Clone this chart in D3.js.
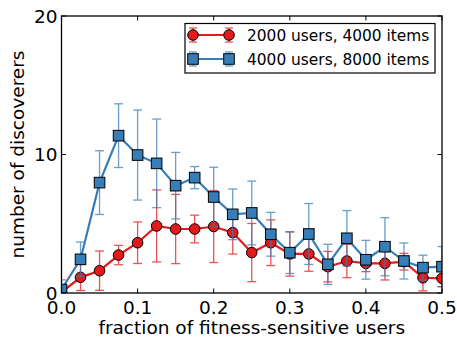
<!DOCTYPE html>
<meta charset="utf-8">
<head>
	<script type="text/javascript" src="https://cdn.jsdelivr.net/npm/d3@7"></script>
	<style>
		body { margin: 0; background: #fff; }
		text { font-family: "DejaVu Sans", sans-serif; }
	</style>
</head>
<body>
<div id="chart"></div>
<script>
	// data
	const fractions = [0, 0.025, 0.05, 0.075, 0.1, 0.125, 0.15, 0.175, 0.2, 0.225, 0.25,
		0.275, 0.3, 0.325, 0.35, 0.375, 0.4, 0.425, 0.45, 0.475, 0.5];
	const smallVals = [0.05, 1.13, 1.61, 2.74, 3.63, 4.84, 4.62, 4.62, 4.8, 4.36, 2.92,
		3.63, 2.82, 2.82, 1.9, 2.31, 2.14, 2.14, 2.26, 1.1, 1.06];
	const smallErr = [0.1, 0.95, 1.42, 0.7, 1.5, 2.6, 2.5, 1.0, 2.6, 1.55, 2.1,
		1.65, 1.6, 1.25, 1.1, 1.2, 0.6, 1.2, 0.6, 0.95, 0.6];
	const bigVals = [0.25, 2.43, 7.97, 11.36, 9.96, 9.36, 7.75, 8.33, 6.93, 5.68, 5.78,
		4.24, 2.91, 4.26, 2.07, 3.95, 2.4, 3.34, 2.31, 1.83, 1.9];
	const bigErr = [0.7, 1.25, 2.3, 2.3, 3.25, 3.2, 2.4, 0.8, 2.15, 1.83, 2.3,
		1.58, 1.5, 2.2, 1.45, 2.0, 1.4, 2.1, 1.3, 0.9, 1.45];
	const seriesNames = ["2000 users, 4000 items", "4000 users, 8000 items"];
	const xTicks = [0, 0.1, 0.2, 0.3, 0.4, 0.5];
	const yTicks = [0, 10, 20];

	const width = 457, height = 337;
	const margin = {left: 61.5, right: 15, top: 16, bottom: 44};
	const fontSize = "18.5px";

	const svg = d3.select("#chart").append("svg")
		.attr("width", width).attr("height", height);

	const x = d3.scaleLinear().domain([0, 0.5]).range([margin.left, width - margin.right]);
	const y = d3.scaleLinear().domain([0, 20]).range([height - margin.bottom, margin.top]);

	svg.append("clipPath").attr("id", "clip").append("rect")
		.attr("x", x(0)).attr("y", y(20)).attr("width", x(0.5) - x(0)).attr("height", y(0) - y(20));

	const series = [
		{name: seriesNames[0], vals: smallVals, err: smallErr, color: "#e41a1c", shape: "circle"},
		{name: seriesNames[1], vals: bigVals, err: bigErr, color: "#377eb8", shape: "square"}
	];

	const line = d3.line().x(d => x(d[0])).y(d => y(d[1]));

	function marker(g, shape, color) {
		if (shape == "circle") {
			g.append("circle").attr("r", 5.3).attr("fill", color)
				.attr("stroke", "#000").attr("stroke-width", 1);
		} else {
			g.append("rect").attr("x", -5.3).attr("y", -5.3).attr("width", 10.6).attr("height", 10.6)
				.attr("fill", color).attr("stroke", "#000").attr("stroke-width", 1);
		}
	}

	const plot = svg.append("g").attr("clip-path", "url(#clip)");

	series.forEach(s => {
		const pts = fractions.map((f, i) => [f, s.vals[i], s.err[i]]);
		const eb = plot.append("g").attr("stroke", s.color).attr("stroke-width", 1.3).attr("opacity", 0.75);
		pts.forEach(p => {
			eb.append("line").attr("x1", x(p[0])).attr("x2", x(p[0]))
				.attr("y1", y(p[1] - p[2])).attr("y2", y(p[1] + p[2]));
			[p[1] - p[2], p[1] + p[2]].forEach(v => {
				eb.append("line").attr("x1", x(p[0]) - 4.5).attr("x2", x(p[0]) + 4.5)
					.attr("y1", y(v)).attr("y2", y(v));
			});
		});
		plot.append("path").datum(pts).attr("d", line)
			.attr("fill", "none").attr("stroke", s.color).attr("stroke-width", 2.2);
		pts.forEach(p => {
			marker(plot.append("g").attr("transform", `translate(${x(p[0])},${y(p[1])})`), s.shape, s.color);
		});
	});

	// frame and ticks (inward, all sides)
	svg.append("rect").attr("x", x(0)).attr("y", y(20)).attr("width", x(0.5) - x(0)).attr("height", y(0) - y(20))
		.attr("fill", "none").attr("stroke", "#000").attr("stroke-width", 1.3);

	const ticks = svg.append("g").attr("stroke", "#000").attr("stroke-width", 1);
	xTicks.forEach(t => {
		ticks.append("line").attr("x1", x(t)).attr("x2", x(t)).attr("y1", y(0)).attr("y2", y(0) - 4.5);
		ticks.append("line").attr("x1", x(t)).attr("x2", x(t)).attr("y1", y(20)).attr("y2", y(20) + 4.5);
		svg.append("text").attr("x", x(t)).attr("y", y(0) + 21).attr("text-anchor", "middle")
			.attr("font-size", fontSize).text(d3.format(".1f")(t));
	});
	yTicks.forEach(t => {
		ticks.append("line").attr("x1", x(0)).attr("x2", x(0) + 4.5).attr("y1", y(t)).attr("y2", y(t));
		ticks.append("line").attr("x1", x(0.5)).attr("x2", x(0.5) - 4.5).attr("y1", y(t)).attr("y2", y(t));
		svg.append("text").attr("x", x(0) - 4).attr("y", y(t) + 6.5).attr("text-anchor", "end")
			.attr("font-size", fontSize).text(t);
	});

	svg.append("text").attr("x", (x(0) + x(0.5)) / 2).attr("y", 334).attr("text-anchor", "middle")
		.attr("font-size", fontSize).text("fraction of fitness-sensitive users");
	svg.append("text").attr("transform", `translate(24,${(y(0) + y(20)) / 2}) rotate(-90)`)
		.attr("text-anchor", "middle").attr("font-size", fontSize).text("number of discoverers");

	// legend
	const legend = svg.append("g");
	legend.append("rect").attr("x", 185).attr("y", 23.5).attr("width", 250).attr("height", 49.5)
		.attr("fill", "#fff").attr("stroke", "#000").attr("stroke-width", 1.2);
	series.forEach((s, i) => {
		const ly = 35 + i * 24;
		legend.append("line").attr("x1", 193).attr("x2", 229).attr("y1", ly).attr("y2", ly)
			.attr("stroke", s.color).attr("stroke-width", 2.2);
		[193, 229].forEach(lx => {
			legend.append("g").attr("stroke", s.color).attr("opacity", 0.75).attr("stroke-width", 1.3)
				.call(g => {
					g.append("line").attr("x1", lx).attr("x2", lx).attr("y1", ly - 7).attr("y2", ly + 7);
					g.append("line").attr("x1", lx - 4).attr("x2", lx + 4).attr("y1", ly - 7).attr("y2", ly - 7);
					g.append("line").attr("x1", lx - 4).attr("x2", lx + 4).attr("y1", ly + 7).attr("y2", ly + 7);
				});
			marker(legend.append("g").attr("transform", `translate(${lx},${ly})`), s.shape, s.color);
		});
		legend.append("text").attr("x", 247).attr("y", ly + 5.5).attr("font-size", "15.4px").text(s.name);
	});
</script>
</body>
</html>
